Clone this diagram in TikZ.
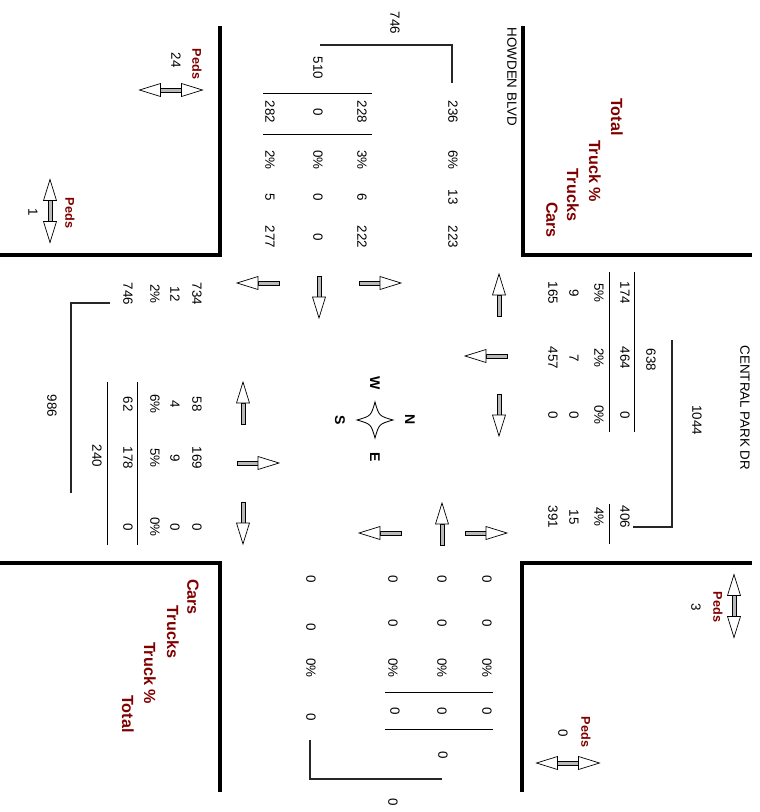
\documentclass[tikz,border=0pt]{standalone}
\usepackage{fontspec}
\setmainfont{Liberation Sans}
\definecolor{darkred}{RGB}{128,0,0}
\tikzset{
  num/.style={rotate=-90, inner sep=0pt, font=\fontsize{9.5}{11}\selectfont},
  lbl/.style={rotate=-90, inner sep=0pt, text=darkred, font=\fontsize{11.5}{13}\selectfont\bfseries},
  peds/.style={rotate=-90, inner sep=0pt, text=darkred, font=\fontsize{9}{11}\selectfont\bfseries},
  compass/.style={rotate=-90, inner sep=0pt, font=\fontsize{10}{12}\selectfont\bfseries},
  curb/.style={line width=2.8pt},
  tally/.style={line width=0.7pt, black},
  bracket/.style={line width=0.8pt, gray!30!black},
  mvarrow/.pic={
    \filldraw[fill=gray!55, line width=0.5pt] (-21,-2) rectangle (0,2);
    \filldraw[fill=white, line width=0.5pt] (0,-6.5) -- (21,0) -- (0,6.5) -- cycle;
  },
  pedarrow/.pic={
    \filldraw[fill=gray!55, line width=0.5pt] (-10.5,-2) rectangle (10.5,2);
    \filldraw[fill=white, line width=0.5pt] (-10.5,-6.5) -- (-31.5,0) -- (-10.5,6.5) -- cycle;
    \filldraw[fill=white, line width=0.5pt] (10.5,-6.5) -- (31.5,0) -- (10.5,6.5) -- cycle;
  }
}
\begin{document}
\begin{tikzpicture}[x=0.025cm, y=-0.025cm]
  \useasboundingbox (0,0) rectangle (760,812);

  % Curbs
  \draw[curb] (220,26) -- (220,255) -- (0,255);
  \draw[curb] (523,26) -- (523,255) -- (752,255);
  \draw[curb] (0,563) -- (220,563) -- (220,792);
  \draw[curb] (752,563) -- (522,563) -- (522,792);

  % Street names
  \node[num] (howden) at (512,77) {HOWDEN BLVD};
  \node[num] (central) at (745,408) {CENTRAL PARK DR};

  % Legends
  \node[lbl] (tlTotal) at (617,117) {Total};
  \node[lbl] (tlTpct) at (595,171) {Truck \%};
  \node[lbl] (tlTrucks) at (573,195) {Trucks};
  \node[lbl] (tlCars) at (552,220) {Cars};
  \node[lbl] (blCars) at (193,597) {Cars};
  \node[lbl] (blTrucks) at (173,632) {Trucks};
  \node[lbl] (blTpct) at (150,673) {Truck \%};
  \node[lbl] (blTotal) at (128,714) {Total};

  % Howden Blvd approach
  \node[num] (h1a) at (453,112) {236};
  \node[num] (h1b) at (453,160) {6\%};
  \node[num] (h1c) at (453,197) {13};
  \node[num] (h1d) at (453,237) {223};
  \node[num] (h2a) at (362,112) {228};
  \node[num] (h2b) at (362,160) {3\%};
  \node[num] (h2c) at (362,197) {6};
  \node[num] (h2d) at (362,237) {222};
  \node[num] (h3a) at (318,112) {0};
  \node[num] (h3b) at (318,160) {0\%};
  \node[num] (h3c) at (318,197) {0};
  \node[num] (h3d) at (318,237) {0};
  \node[num] (h4a) at (270,112) {282};
  \node[num] (h4b) at (270,160) {2\%};
  \node[num] (h4c) at (270,197) {5};
  \node[num] (h4d) at (270,237) {277};
  \node[num] (hsub) at (318,68) {510};
  \node[num] (htot) at (395,23) {746};
  \draw[tally] (263,93) -- (372,93);
  \draw[tally] (263,134) -- (372,134);
  \draw[bracket] (320,45) -- (452,45) -- (452,83);

  % Central Park Dr approach
  \node[num] (c1a) at (625,293) {174};
  \node[num] (c1b) at (599,293) {5\%};
  \node[num] (c1c) at (574,293) {9};
  \node[num] (c1d) at (553,293) {165};
  \node[num] (c2a) at (625,358) {464};
  \node[num] (c2b) at (599,358) {2\%};
  \node[num] (c2c) at (574,358) {7};
  \node[num] (c2d) at (553,358) {457};
  \node[num] (c3a) at (625,415) {0};
  \node[num] (c3b) at (599,415) {0\%};
  \node[num] (c3c) at (574,415) {0};
  \node[num] (c3d) at (553,415) {0};
  \node[num] (c4a) at (625,517) {406};
  \node[num] (c4b) at (599,517) {4\%};
  \node[num] (c4c) at (574,517) {15};
  \node[num] (c4d) at (553,517) {391};
  \node[num] (csub) at (651,360) {638};
  \node[num] (ctot) at (697,420) {1044};
  \draw[tally] (634,272) -- (634,432);
  \draw[tally] (609,272) -- (609,432);
  \draw[tally] (609,504) -- (609,544);
  \draw[bracket] (672,340) -- (672,527) -- (633,527);

  % South approach
  \node[num] (s1a) at (487,579) {0};
  \node[num] (s1b) at (487,623) {0};
  \node[num] (s1c) at (487,668) {0\%};
  \node[num] (s1d) at (487,711) {0};
  \node[num] (s2a) at (442,579) {0};
  \node[num] (s2b) at (442,623) {0};
  \node[num] (s2c) at (442,668) {0\%};
  \node[num] (s2d) at (442,711) {0};
  \node[num] (s3a) at (393,579) {0};
  \node[num] (s3b) at (393,623) {0};
  \node[num] (s3c) at (393,668) {0\%};
  \node[num] (s3d) at (395,711) {0};
  \node[num] (s4a) at (311,579) {0};
  \node[num] (s4b) at (311,627) {0};
  \node[num] (s4c) at (311,668) {0\%};
  \node[num] (s4d) at (311,717) {0};
  \node[num] (ssub) at (443,755) {0};
  \node[num] (stot) at (393,802) {0};
  \draw[tally] (385,692) -- (493,692);
  \draw[tally] (385,729) -- (493,729);
  \draw[bracket] (310,740) -- (310,779) -- (442,779);

  % West approach
  \node[num] (w1a) at (197,294) {734};
  \node[num] (w1b) at (175,294) {12};
  \node[num] (w1c) at (155,294) {2\%};
  \node[num] (w1d) at (128,294) {746};
  \node[num] (w2a) at (197,404) {58};
  \node[num] (w2b) at (175,404) {4};
  \node[num] (w2c) at (155,404) {6\%};
  \node[num] (w2d) at (128,404) {62};
  \node[num] (w3a) at (197,458) {169};
  \node[num] (w3b) at (175,458) {9};
  \node[num] (w3c) at (155,458) {5\%};
  \node[num] (w3d) at (128,458) {178};
  \node[num] (w4a) at (197,527) {0};
  \node[num] (w4b) at (175,527) {0};
  \node[num] (w4c) at (155,527) {0\%};
  \node[num] (w4d) at (128,527) {0};
  \node[num] (wsub) at (97,456) {240};
  \node[num] (wtot) at (52,406) {986};
  \draw[tally] (137,382) -- (137,545);
  \draw[tally] (107,382) -- (107,545);
  \draw[bracket] (110,303) -- (71,303) -- (71,493);

  % Movement arrows
  \pic[rotate=180] at (258,283) {mvarrow};
  \pic[rotate=-90] at (319,297) {mvarrow};
  \pic at (380,283) {mvarrow};
  \pic[rotate=90] at (499,295) {mvarrow};
  \pic[rotate=180] at (486,356) {mvarrow};
  \pic[rotate=-90] at (499,415) {mvarrow};
  \pic[rotate=180] at (380,533) {mvarrow};
  \pic[rotate=90] at (442,524) {mvarrow};
  \pic at (486,533) {mvarrow};
  \pic[rotate=90] at (243,403) {mvarrow};
  \pic at (258,463) {mvarrow};
  \pic[rotate=-90] at (243,523) {mvarrow};

  % Compass
  \draw[line width=0.6pt] (375,402) .. controls (379,416) .. (393,420)
    .. controls (379,424) .. (375,438) .. controls (371,424) .. (357,420)
    .. controls (371,416) .. (375,402) -- cycle;
  \node[compass] (cW) at (375,383) {W};
  \node[compass] (cN) at (410,420) {N};
  \node[compass] (cE) at (375,457) {E};
  \node[compass] (cS) at (340,420) {S};

  % Pedestrians
  \pic at (171,90) {pedarrow};
  \node[peds] (p1) at (197,64) {Peds};
  \node[num] (p1n) at (176,60) {24};
  \pic[rotate=90] at (50,211) {pedarrow};
  \node[peds] (p2) at (70,213) {Peds};
  \node[num] (p2n) at (33,212) {1};
  \pic[rotate=90] at (734,606) {pedarrow};
  \node[peds] (p3) at (718,607) {Peds};
  \node[num] (p3n) at (696,607) {3};
  \pic at (568,763) {pedarrow};
  \node[peds] (p4) at (586,732) {Peds};
  \node[num] (p4n) at (563,733) {0};
\end{tikzpicture}
\end{document}
